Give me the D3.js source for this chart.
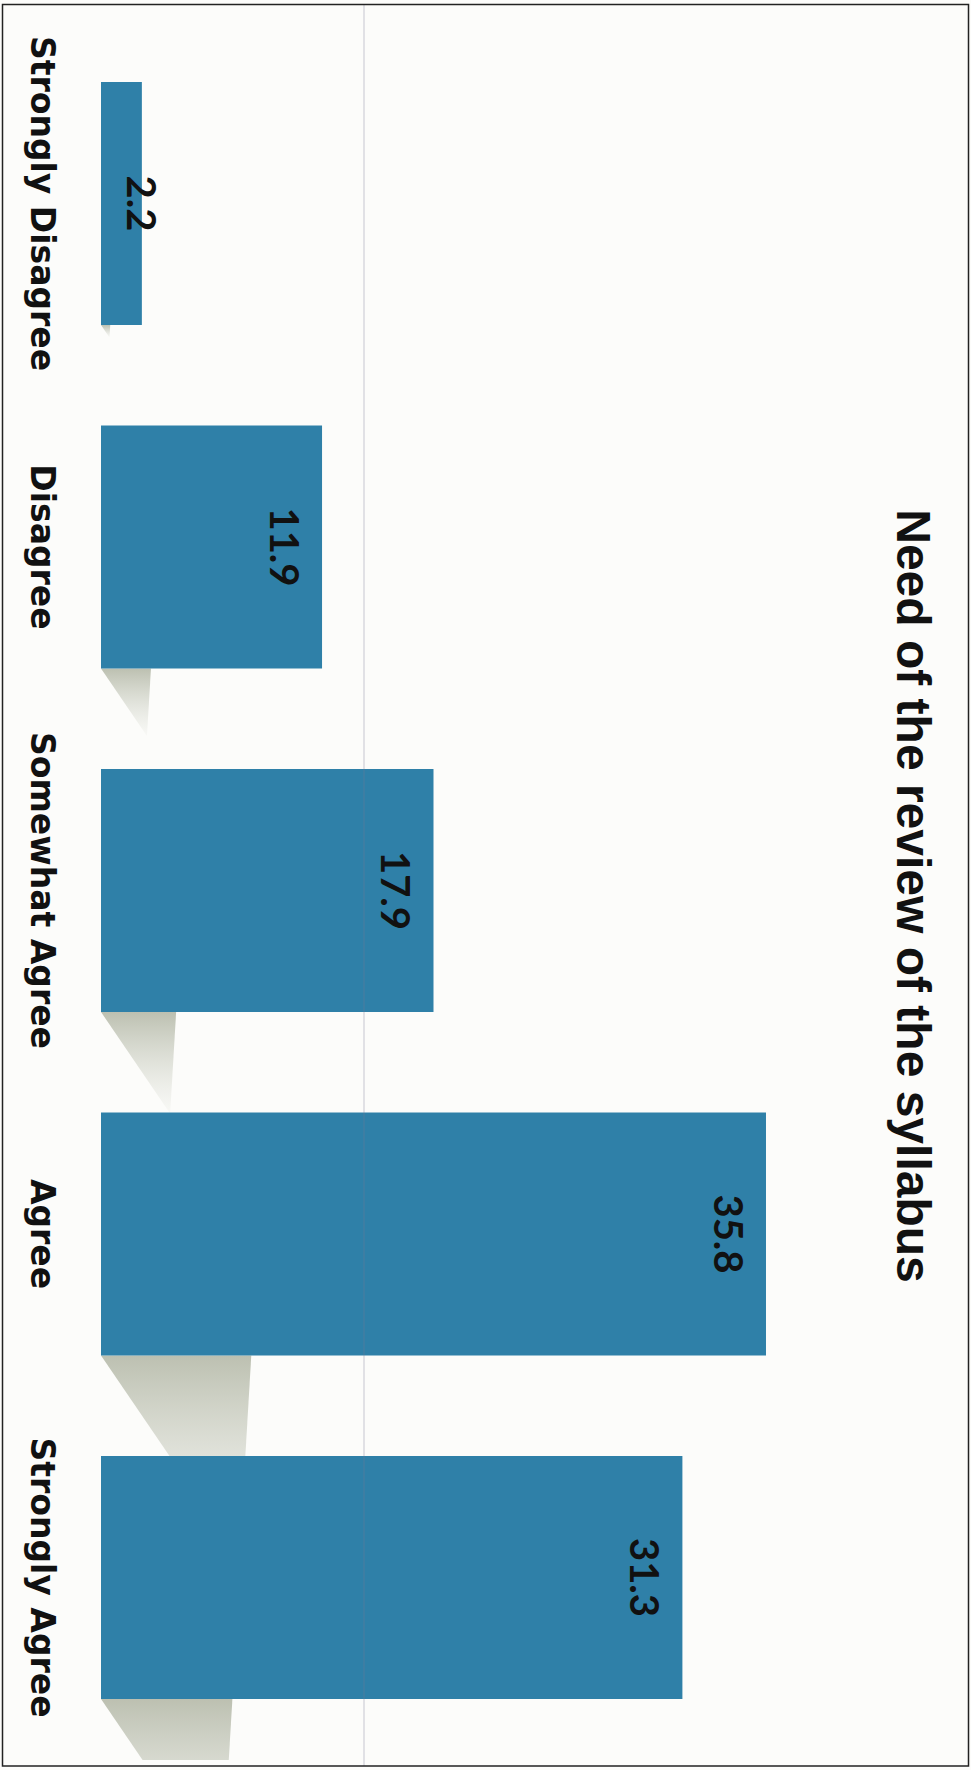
<!DOCTYPE html>
<html>
<head>
<meta charset="utf-8">
<script src="https://cdn.jsdelivr.net/npm/d3@7"></script>
<style>
  html, body { margin: 0; padding: 0; background: #fcfcfa; }
  svg { display: block; }
</style>
</head>
<body>
<script>
// ---- data ----
const categories = ["Strongly Disagree", "Disagree", "Somewhat Agree", "Agree", "Strongly Agree"];
const values = [2.2, 11.9, 17.9, 35.8, 31.3];
const valueLabels = ["2.2", "11.9", "17.9", "35.8", "31.3"];
const chartTitle = "Need of the review of the syllabus";

// ---- layout ----
const W = 971, H = 1770;
const svg = d3.select("body").append("svg").attr("width", W).attr("height", H);

svg.append("rect").attr("x", 0).attr("y", 0).attr("width", W).attr("height", H).attr("fill", "#fcfcfa");

const x = d3.scaleLinear().domain([0, 40]).range([101, 101 + 743]);
const y = d3.scaleBand().domain(categories).range([82, 1699]).paddingInner(0.2926).paddingOuter(0);

const data = categories.map((c, i) => ({ cat: c, v: values[i], label: valueLabels[i] }));

const defs = svg.append("defs");
const grad = defs.append("linearGradient").attr("id", "shadowGrad")
  .attr("x1", 0).attr("y1", 0).attr("x2", 0).attr("y2", 1);
grad.append("stop").attr("offset", "0%").attr("stop-color", "#b9bdad").attr("stop-opacity", 0.95);
grad.append("stop").attr("offset", "100%").attr("stop-color", "#d6d9cf").attr("stop-opacity", 0.1);
defs.append("clipPath").attr("id", "frameClip")
  .append("rect").attr("x", 3).attr("y", 5).attr("width", 965).attr("height", 1755);

// shadows (drawn behind the bars)
svg.append("g").attr("clip-path", "url(#frameClip)")
  .selectAll("path").data(data).join("path")
  .attr("d", d => {
    const x0 = x(0), len = x(d.v) - x(0);
    const w = 0.226 * len, L = 1.35 * w;
    const yb = y(d.cat) + y.bandwidth();
    return `M${x0},${yb}L${x0 + w},${yb}L${x0 + 0.92 * w},${yb + L}Z`;
  })
  .attr("fill", "url(#shadowGrad)");

// bars
svg.append("g").selectAll("rect").data(data).join("rect")
  .attr("x", x(0))
  .attr("y", d => y(d.cat))
  .attr("width", d => x(d.v) - x(0))
  .attr("height", y.bandwidth())
  .attr("fill", "#2f80a8");

// value labels (rotated, inside end)
svg.append("g").selectAll("text").data(data).join("text")
  .attr("transform", d => `translate(${Math.max(x(d.v) - 52, x(0) + 26)},${y(d.cat) + y.bandwidth() / 2}) rotate(90)`)
  .attr("text-anchor", "middle")
  .attr("font-family", "Lato, 'Noto Sans', sans-serif")
  .attr("font-weight", "bold")
  .attr("font-size", 40)
  .attr("fill", "#111")
  .text(d => d.label);

// category axis (rotated labels)
const axis = svg.append("g").attr("transform", "translate(31,0)")
  .call(d3.axisLeft(y).tickSize(0).tickPadding(0));
axis.select(".domain").remove();
axis.selectAll(".tick text")
  .attr("x", 0).attr("dy", 0)
  .attr("text-anchor", "middle")
  .attr("transform", "rotate(90)")
  .attr("font-family", "'DejaVu Sans', sans-serif")
  .attr("font-weight", "bold")
  .attr("font-size", 33)
  .attr("fill", "#111");

// title
svg.append("text")
  .attr("transform", `translate(897,896) rotate(90)`)
  .attr("text-anchor", "middle")
  .attr("font-family", "'Liberation Sans', Arial, sans-serif")
  .attr("font-weight", "bold")
  .attr("font-size", 48)
  .attr("fill", "#111")
  .text(chartTitle);

// fold line
svg.append("line").attr("x1", 364).attr("x2", 364).attr("y1", 5).attr("y2", 1766)
  .attr("stroke", "#7a7a90").attr("stroke-opacity", 0.4).attr("stroke-width", 1);

// frame
svg.append("rect").attr("x", 2.5).attr("y", 4.5).attr("width", 966).attr("height", 1761.5)
  .attr("fill", "none").attr("stroke", "#222").attr("stroke-width", 1.5);
</script>
</body>
</html>
